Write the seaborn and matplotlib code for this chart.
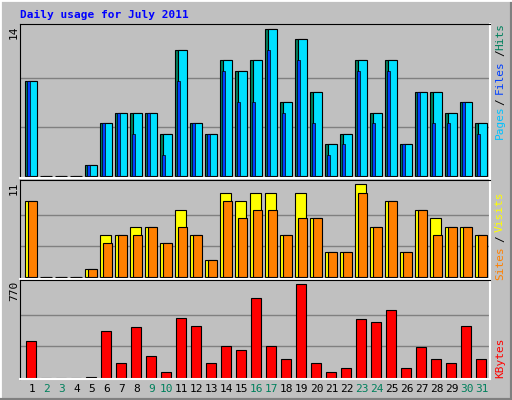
import numpy as np
import matplotlib.pyplot as plt
import seaborn as sns

days   = np.arange(1, 32)
hits   = [9,0,0,0,1,5,6,6,6,4,12,5,4,11,10,11,14,7,13,8,3,4,11,6,11,3,8,8,6,7,5]
pages  = hits
files  = [9,0,0,0,1,5,6,4,6,2,9,5,4,10,7,7,12,6,11,5,2,3,10,5,10,3,8,5,5,7,4]
visits = [9,0,0,0,1,5,5,6,6,4,8,5,2,10,9,10,10,5,10,7,3,3,11,6,9,3,8,7,6,6,5]
sites  = [9,0,0,0,1,4,5,5,6,4,6,5,2,9,7,8,8,5,7,7,3,3,10,6,9,3,8,5,6,6,5]
kbytes = [298,0,0,0,5,382,121,416,180,45,492,424,121,264,230,660,264,155,770,121,45,79,483,458,559,79,256,155,121,424,155]
weekend = [2,3,9,10,16,17,23,24,30,31]

sns.set_style('white')
plt.rcParams['font.family'] = ['DejaVu Sans Mono']

BG = '#c0c0c0'
fig = plt.figure(figsize=(5.12, 4.0), dpi=100, facecolor=BG)
W, H = 512, 400
X0, X1 = 0.22, 31.55

def px_axes(x0, y0, x1, y1):
    ax = fig.add_axes([x0 / W, 1 - y1 / H, (x1 - x0) / W, (y1 - y0) / H])
    ax.set_facecolor(BG)
    for s in ['top', 'left']:
        ax.spines[s].set_color('#000000')
    for s in ['bottom', 'right']:
        ax.spines[s].set_color('#ffffff')
        ax.spines[s].set_linewidth(1.5)
    ax.set_xlim(X0, X1)
    ax.set_xticks([]); ax.set_yticks([])
    return ax

kw = dict(edgecolor='black', linewidth=0.8, align='edge')

# Hits / Files / Pages
ax1 = px_axes(20, 24, 490, 178)
ymax1 = 14
ax1.set_ylim(-0.2, 14.45)
for f in (1/3, 2/3):
    ax1.axhline(ymax1 * f, color='#808080', lw=1, zorder=0)
ax1.bar(days - 0.45, hits, width=0.75, color='#00805c', **kw)
ax1.bar(days - 0.23, pages, width=0.55, color='#00e0ff', **kw)
ax1.bar(days - 0.3, files, width=0.2, color='#0040ff', edgecolor='black', linewidth=0.5, align='edge')

# Visits / Sites
ax2 = px_axes(20, 180, 490, 279)
ymax2 = 11
ax2.set_ylim(-0.2, 11.5)
for f in (1/3, 2/3):
    ax2.axhline(ymax2 * f, color='#808080', lw=1, zorder=0)
ax2.bar(days - 0.45, visits, width=0.75, color='#ffff00', **kw)
ax2.bar(days - 0.23, sites, width=0.55, color='#ff8000', **kw)

# KBytes
ax3 = px_axes(20, 280, 490, 379)
ymax3 = 770
ax3.set_ylim(-12, 806)
for f in (1/3, 2/3):
    ax3.axhline(ymax3 * f, color='#808080', lw=1, zorder=0)
ax3.bar(days - 0.35, kbytes, width=0.65, color='#ff0000', **kw)

def ftext(x, y, s, **k):
    fig.text(x / W, 1 - y / H, s, **k)

ftext(20, 15, 'Daily usage for July 2011', color='#0000ff', fontsize=8,
      fontweight='bold', va='center', ha='left')

rot = dict(rotation=90, va='center', ha='center', fontsize=8)
ftext(14, 32, '14', color='black', **rot)
ftext(14, 188, '11', color='black', **rot)
ftext(14, 291, '770', color='black', **rot)

ftext(500, 36, 'Hits', color='#00805c', **rot)
ftext(500, 53, '/', color='black', **rot)
ftext(500, 77, 'Files', color='#0040ff', **rot)
ftext(500, 102, '/', color='black', **rot)
ftext(500, 122, 'Pages', color='#00c0ff', **rot)
ftext(500, 212, 'Visits', color='#ffff00', **rot)
ftext(500, 239, '/', color='black', **rot)
ftext(500, 263, 'Sites', color='#ff8000', **rot)
ftext(500, 358, 'KBytes', color='#ff0000', **rot)

for d in days:
    x = 20 + (d - X0) * 470 / (X1 - X0)
    ftext(x, 389, str(d), color='#00805c' if d in weekend else 'black',
          fontsize=8, ha='center', va='center')

# outer 3D border
border = fig.add_axes([0, 0, 1, 1], facecolor='none')
border.set_xticks([]); border.set_yticks([])
for s in ['top', 'left']:
    border.spines[s].set_color('#ffffff'); border.spines[s].set_linewidth(2)
for s in ['bottom', 'right']:
    border.spines[s].set_color('#808080'); border.spines[s].set_linewidth(3)

fig.savefig('out.png', dpi=100, facecolor=BG)
